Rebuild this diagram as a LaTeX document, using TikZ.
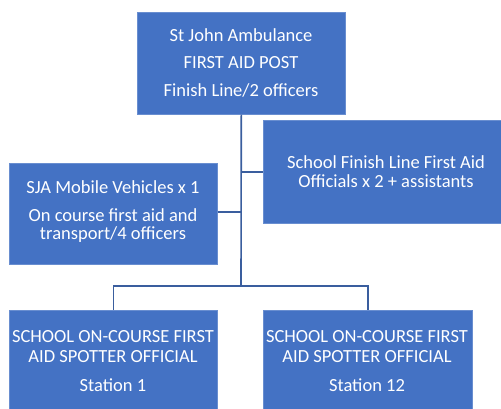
\documentclass[tikz,border=0pt]{standalone}
\usepackage{fontspec}
\setmainfont{Carlito}
\definecolor{boxblue}{HTML}{4472C4}
\definecolor{lineblue}{HTML}{3A5E9E}
\begin{document}
\begin{tikzpicture}[x=1pt,y=-1pt,
  box/.style={fill=boxblue,draw=boxblue!80!white,line width=0.6pt,inner sep=0pt,anchor=north west},
  txt/.style={text=white,font=\fontsize{18.5}{20}\selectfont,inner sep=0pt},
  conn/.style={draw=lineblue,line width=1.6pt}]
\useasboundingbox (0,0) rectangle (501,409);
% boxes
\node[box,minimum width=208pt,minimum height=102pt] (top) at (137,12) {};
\node[box,minimum width=240pt,minimum height=103pt] (right) at (263,120) {};
\node[box,minimum width=208pt,minimum height=101pt] (left) at (9,163) {};
\node[box,minimum width=208pt,minimum height=102pt] (bl) at (9,310) {};
\node[box,minimum width=209pt,minimum height=102pt] (br) at (263,310) {};
% texts
\node[txt] (t1) at (241,35) {St John Ambulance};
\node[txt] (t2) at (241,63) {FIRST AID POST};
\node[txt] (t3) at (241,90) {Finish Line/2 officers};
\node[txt] (r1) at (386,162) {School Finish Line First Aid};
\node[txt] (r2) at (386,181) {Officials x 2 + assistants};
\node[txt] (l1) at (113,187) {SJA Mobile Vehicles x 1};
\node[txt] (l2) at (113,215) {On course first aid and};
\node[txt] (l3) at (113,235) {transport/4 officers};
\node[txt] (a1) at (113,337) {SCHOOL ON-COURSE FIRST};
\node[txt] (a2) at (113,357) {AID SPOTTER OFFICIAL};
\node[txt] (a3) at (113,385) {Station 1};
\node[txt] (b1) at (367,337) {SCHOOL ON-COURSE FIRST};
\node[txt] (b2) at (367,357) {AID SPOTTER OFFICIAL};
\node[txt] (b3) at (367,385) {Station 12};
% connectors
\coordinate (hub) at (241,286);
\draw[conn] (top.south) -- (hub);
\draw[conn] (241,172) -- (right.west |- 0,172);
\draw[conn] (left.east |- 0,212) -- (241,212);
\draw[conn] (hub) -| (bl.north);
\draw[conn] (hub) -| (br.north);
\end{tikzpicture}
\end{document}
